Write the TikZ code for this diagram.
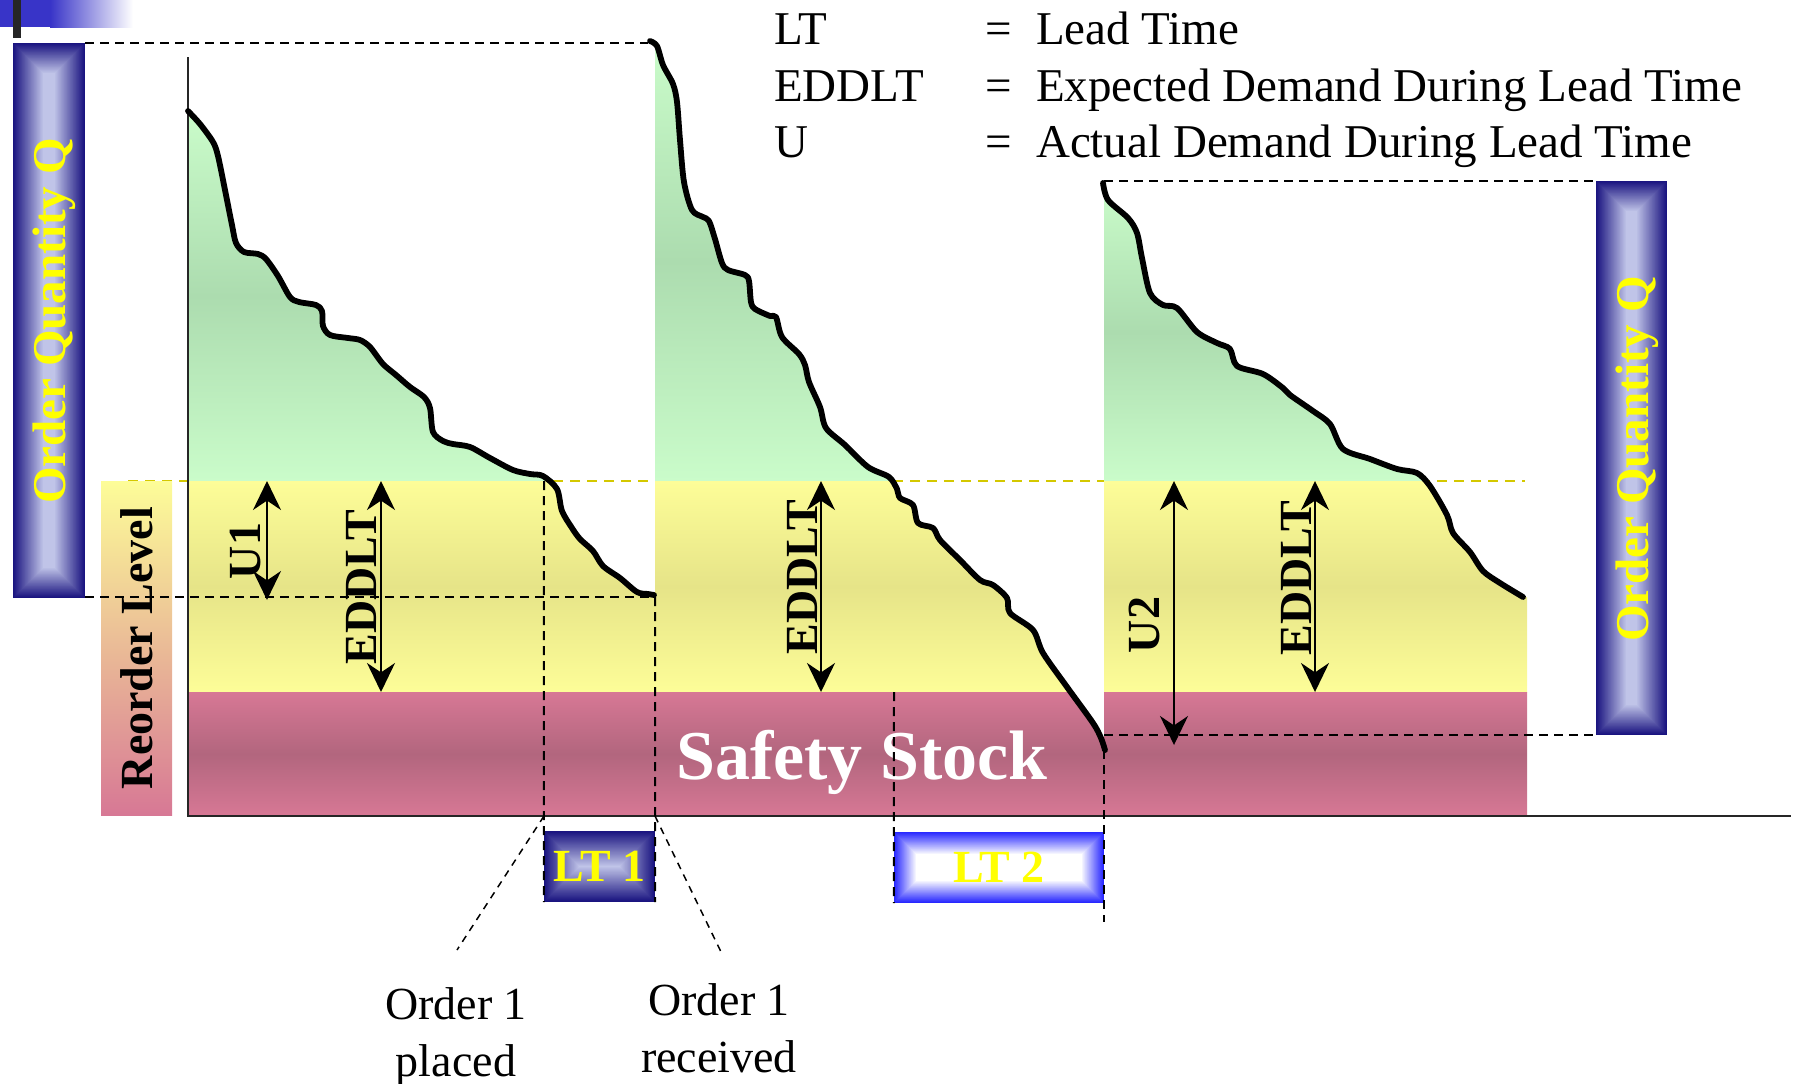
\documentclass[tikz,border=0pt]{standalone}
\usepackage{fontspec}
\setmainfont{Liberation Serif}
\usetikzlibrary{arrows.meta,positioning}

\definecolor{qnavy}{RGB}{26,20,128}
\definecolor{lavender}{RGB}{192,196,232}
\definecolor{ltblue}{RGB}{40,40,255}
\definecolor{qyellow}{RGB}{255,255,0}
\definecolor{grnlt}{RGB}{202,252,202}
\definecolor{grndk}{RGB}{172,220,175}
\definecolor{yellt}{RGB}{253,253,152}
\definecolor{yeldk}{RGB}{230,228,136}
\definecolor{pnklt}{RGB}{215,120,149}
\definecolor{pnkdk}{RGB}{178,102,126}
\definecolor{rlyellow}{RGB}{212,200,0}
\definecolor{slideblue}{RGB}{56,52,200}

\tikzset{
  demand/.style={line width=5.8pt,line cap=round,line join=round},
  guide/.style={line width=2pt,dash pattern=on 9pt off 6pt},
  reorderline/.style={line width=2pt,dash pattern=on 10pt off 7pt,draw=rlyellow},
  leader/.style={line width=1.5pt,dash pattern=on 7pt off 6pt},
  spanarrow/.style={line width=2pt,{Stealth[length=29pt,width=28pt]}-{Stealth[length=29pt,width=28pt]}},
  axisline/.style={line width=2pt,draw=black!85},
  vtag/.style={rotate=90,inner sep=0pt,font=\fontsize{46}{50}\selectfont\bfseries},
  qtag/.style={vtag,text=qyellow,font=\fontsize{47}{50}\selectfont\bfseries},
  lttag/.style={inner sep=0pt,text=qyellow,font=\fontsize{46}{50}\selectfont\bfseries},
  safety/.style={inner sep=0pt,text=white,font=\fontsize{70}{74}\selectfont\bfseries},
  legendtext/.style={anchor=base west,inner sep=0pt,font=\fontsize{47}{57}\selectfont},
  note/.style={align=center,inner sep=0pt,font=\fontsize{46}{57}\selectfont},
}

\newcommand{\rectgrad}[7]{%
  \foreach \k in {0,...,35}{%
    \pgfmathtruncatemacro{\pct}{min(100,100*\k/#7)}%
    \fill[#6!\pct!#5] ({#1+\k},{#2+\k}) rectangle ({#3-\k},{#4-\k});%
  }%
}

\newcommand{\bands}[3]{%
  \shade[top color=grnlt,bottom color=grnlt,middle color=grndk] (#1,#3) rectangle (#2,481);
  \shade[top color=yellt,bottom color=yellt,middle color=yeldk] (#1,481) rectangle (#2,692);
  \shade[top color=pnklt,bottom color=pnklt,middle color=pnkdk] (#1,692) rectangle (#2,816);
}

\newcommand{\demandA}{-- plot[smooth,tension=.5] coordinates {(188,111) (200,124) (213,142) (218,156) (225,190) (232,225) (236,243) (244,252) (258,254) (266,259) (278,276) (290,297) (299,302) (316,305) (322,311) (323,326) (330,335) (348,338) (360,340) (370,347) (383,364) (396,375) (410,387) (424,397) (430,408) (433,432) (443,441) (453,444) (470,447) (490,458) (513,470) (530,474) (543,476) (557,489) (562,511) (572,528) (580,539) (593,551) (603,566) (620,578) (637,592) (648,594) (654,595)}}
\newcommand{\demandB}{-- plot[smooth,tension=.5] coordinates {(650,41) (657,46) (663,65) (673,84) (677,102) (680,140) (684,182) (692,210) (703,217) (709,221) (715,239) (722,263) (728,270) (745,275) (749,281) (751,302) (755,309) (770,316) (776,317) (782,337) (799,354) (805,365) (809,382) (820,407) (826,428) (845,445) (868,467) (889,477) (897,489) (900,498) (913,505) (918,523) (933,528) (940,540) (960,560) (980,580) (993,585) (1007,598) (1010,613) (1033,630) (1043,653) (1067,687) (1093,723) (1101,738) (1105,750)}}
\newcommand{\demandC}{-- plot[smooth,tension=.5] coordinates {(1103,183) (1108,200) (1128,218) (1137,233) (1142,258) (1150,293) (1163,305) (1177,308) (1197,332) (1217,343) (1230,349) (1237,366) (1263,374) (1283,388) (1290,395) (1313,411) (1330,424) (1343,449) (1370,459) (1397,469) (1417,473) (1430,486) (1447,515) (1453,533) (1470,552) (1483,571) (1500,583) (1523,597)}}

\begin{document}
\begin{tikzpicture}[x=1pt,y=-1pt]
\useasboundingbox (0,0) rectangle (1799,1084);

\fill[slideblue] (0,0) rectangle (50,27);
\shade[left color=slideblue,right color=white] (50,0) rectangle (133,27);
\fill[black!85] (13,0) rectangle (21,38);

\coordinate (rlL) at (128,481);
\coordinate (rlR) at (1525,481);
\draw[reorderline] (rlL) -- (rlR);

\shade[top color=yellt,bottom color=pnklt] (101,481) rectangle (172,815);
\node[vtag] (reorder) at (137,648) {Reorder Level};

\begin{scope}
\clip (188,816) -- (188,111) \demandA -- (655,597) -- (655,816) -- cycle;
\bands{188}{655}{111}
\end{scope}
\begin{scope}
\clip (650,816) -- (650,41) \demandB -- (1105,816) -- cycle;
\bands{655}{1104}{41}
\end{scope}
\begin{scope}
\clip (1103,816) -- (1103,183) \demandC -- (1527,597) -- (1527,816) -- cycle;
\bands{1104}{1527}{183}
\end{scope}

\node[safety,anchor=base] (ss) at (862,779) {Safety Stock};

\coordinate (origin) at (188,816);
\coordinate (axtop) at (188,57);
\coordinate (axend) at (1791,816);
\draw[axisline] (axtop) -- (origin) -- (axend);

\draw[demand] (188,111) \demandA;
\draw[demand] (650,41) \demandB;
\draw[demand] (1103,183) \demandC;

\rectgrad{13}{43}{85}{598}{qnavy}{lavender}{30}
\node[qtag] (qleft) at (54,321) {Order Quantity Q};
\rectgrad{1596}{181}{1667}{735}{qnavy}{lavender}{30}
\node[qtag] (qright) at (1637,459) {Order Quantity Q};

\rectgrad{544}{831}{655}{902}{qnavy}{lavender}{35}
\node[lttag,minimum width=111pt,minimum height=71pt] (lt1) at (599.5,866.5) {LT 1};
\rectgrad{894}{832}{1104}{903}{ltblue}{white}{22}
\node[lttag,minimum width=210pt,minimum height=71pt] (lt2) at (999,867.5) {LT 2};

\coordinate (qAtop) at (85,43);
\coordinate (topB) at (648,43);
\coordinate (qAlow) at (85,597);
\coordinate (recvtop) at (655,597);
\coordinate (topC) at (1104,181);
\coordinate (qBtop) at (1596,181);
\coordinate (u2low) at (1104,735);
\coordinate (qBlow) at (1596,735);
\coordinate (place) at (544,481);
\coordinate (lt2top) at (894,692);
\coordinate (endB) at (1104,750);
\coordinate (lt2foot) at (1104,922);
\draw[guide] (qAtop) -- (topB);
\draw[guide] (qAlow) -- (recvtop);
\draw[guide] (topC) -- (qBtop);
\draw[guide] (u2low) -- (qBlow);
\draw[guide] (place) -- (lt1.south west);
\draw[guide] (recvtop) -- (lt1.south east);
\draw[guide] (lt2top) -- (lt2.south west);
\draw[guide] (endB) -- (lt2foot);

\coordinate (u1a) at (267,481);
\coordinate (u1b) at (267,600);
\coordinate (e1a) at (381,481);
\coordinate (e1b) at (381,692);
\coordinate (e2a) at (821,481);
\coordinate (e2b) at (821,692);
\coordinate (u2a) at (1174,481);
\coordinate (u2b) at (1174,745);
\coordinate (e3a) at (1315,481);
\coordinate (e3b) at (1315,692);
\draw[spanarrow] (u1a) -- (u1b);
\draw[spanarrow] (e1a) -- (e1b);
\draw[spanarrow] (e2a) -- (e2b);
\draw[spanarrow] (u2a) -- (u2b);
\draw[spanarrow] (e3a) -- (e3b);
\node[vtag] (lu1) at (246,551) {U1};
\node[vtag] (le1) at (361,587) {EDDLT};
\node[vtag] (le2) at (802,577) {EDDLT};
\node[vtag] (lu2) at (1144,625) {U2};
\node[vtag] (le3) at (1296,578) {EDDLT};

\node[legendtext] (kLT) at (774,44) {LT};
\node[legendtext] (kED) at (774,101) {EDDLT};
\node[legendtext] (kU) at (774,157) {U};
\node[legendtext] (eLT) at (985,44) {=};
\node[legendtext] (eED) at (985,101) {=};
\node[legendtext] (eU) at (985,157) {=};
\node[legendtext,base right=24pt of eLT] (dLT) {Lead Time};
\node[legendtext,base right=24pt of eED] (dED) {Expected Demand During Lead Time};
\node[legendtext,base right=24pt of eU] (dU) {Actual Demand During Lead Time};

\coordinate (placefoot) at (544,816);
\coordinate (placetip) at (457,950);
\coordinate (recvfoot) at (655,816);
\coordinate (recvtip) at (723,956);
\draw[leader] (placefoot) -- (placetip);
\draw[leader] (recvfoot) -- (recvtip);
\node[note,anchor=north] (placed) at (456,987) {Order 1\\placed};
\node[note,anchor=north] (received) at (719,983) {Order 1\\received};
\end{tikzpicture}
\end{document}
